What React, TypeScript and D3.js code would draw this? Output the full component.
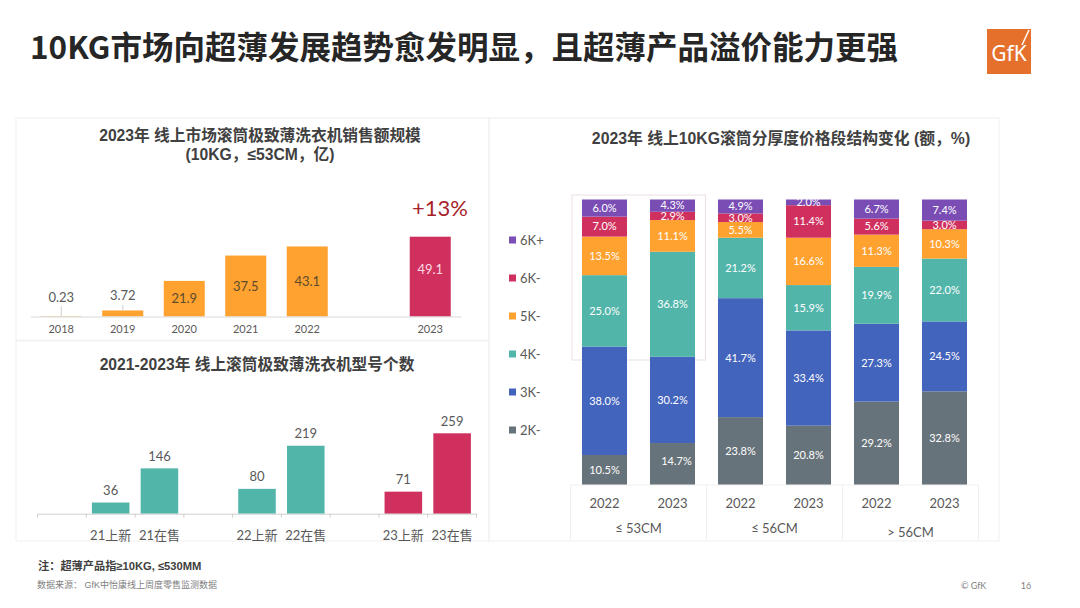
import React, { useEffect, useRef } from 'react';
import * as d3 from 'd3';

// sales scale, 10KG <=53CM (100M RMB)
const salesYears = ['2018', '2019', '2020', '2021', '2022', 'gap', '2023'];
const salesValues = [0.23, 3.72, 21.9, 37.5, 43.1, 0, 49.1];
const salesLabels = ['0.23', '3.72', '21.9', '37.5', '43.1', '', '49.1'];

// model counts
const modelCats = ['gap1', '21上新', '21在售', 'gap2', '22上新', '22在售', 'gap3', '23上新', '23在售'];
const modelValues = [0, 36, 146, 0, 80, 219, 0, 71, 259];

// price band structure, bottom band first
const bands = ['2K-', '3K-', '4K-', '5K-', '6K-', '6K+'];
const columns = ['a2022', 'a2023', 'b2022', 'b2023', 'c2022', 'c2023'];
const columnYears = ['2022', '2023', '2022', '2023', '2022', '2023'];
const share2K = [10.5, 14.7, 23.8, 20.8, 29.2, 32.8];
const share3K = [38.0, 30.2, 41.7, 33.4, 27.3, 24.5];
const share4K = [25.0, 36.8, 21.2, 15.9, 19.9, 22.0];
const share5K = [13.5, 11.1, 5.5, 16.6, 11.3, 10.3];
const share6K = [7.0, 2.9, 3.0, 11.4, 5.6, 3.0];
const share6KPlus = [6.0, 4.3, 4.9, 2.0, 6.7, 7.4];
const groups = ['≤ 53CM', '≤ 56CM', '> 56CM'];

const ORANGE = '#ffa230';
const RED = '#d0305e';
const TEAL = '#52b5aa';
const BLUE = '#4364bc';
const GREY = '#67737a';
const PURPLE = '#7a4db5';
const bandColors = [GREY, BLUE, TEAL, ORANGE, RED, PURPLE];

const LATO = 'Lato, "Noto Sans CJK SC", sans-serif';
const HEAD = '"Liberation Sans", "Noto Sans CJK SC", sans-serif';
const TEXT = '#595959';
const RULE = '#f0f0f0';

const App: React.FC = () => {
  const svgRef = useRef<SVGSVGElement>(null);

  useEffect(() => {
    if (!svgRef.current) return;
    const svg = d3.select(svgRef.current);
    svg.selectAll('*').remove();

    const label = (
      parent: d3.Selection<any, any, any, any>,
      x: number,
      y: number,
      str: string,
      size: number,
      fill = TEXT,
      weight = 400,
      family = LATO,
      anchor = 'middle'
    ) =>
      parent
        .append('text')
        .attr('x', x)
        .attr('y', y)
        .attr('dy', '0.35em')
        .attr('text-anchor', anchor)
        .attr('font-size', size)
        .attr('font-weight', weight)
        .attr('font-family', family)
        .attr('fill', fill)
        .text(str);

    // page heading
    label(svg, 30, 48, '10KG市场向超薄发展趋势愈发明显，且超薄产品溢价能力更强', 31.5, '#262626', 700, '"Noto Sans CJK SC", sans-serif', 'start');

    // logo
    const logo = svg.append('g');
    logo.append('rect').attr('x', 987).attr('y', 29).attr('width', 44).attr('height', 45).attr('fill', '#e5702b');
    label(logo, 1009, 54, 'GfK', 21, '#fff', 400, '"Noto Sans", sans-serif');
    logo.append('line').attr('x1', 1022).attr('y1', 45).attr('x2', 1029).attr('y2', 30).attr('stroke', '#fff').attr('stroke-width', 1.5);

    // card frames
    [
      [16, 118, 473, 222],
      [16, 341, 473, 200],
      [489, 118, 510, 423],
    ].forEach(([x, y, w, h]) => {
      svg.append('rect').attr('x', x).attr('y', y).attr('width', w).attr('height', h).attr('fill', 'none').attr('stroke', RULE);
    });

    // top left: sales
    const salesX = d3.scaleBand<string>().domain(salesYears).range([30.5, 461]).paddingInner(0.333).paddingOuter(0.1665);
    const salesY = d3.scaleLinear().domain([0, 49.1]).range([316.5, 236.7]);
    label(svg, 260, 136, '2023年 线上市场滚筒极致薄洗衣机销售额规模', 15.7, '#404040', 700, HEAD);
    label(svg, 260, 155, '(10KG，≤53CM，亿)', 15.7, '#404040', 700, HEAD);

    salesYears.forEach((year, i) => {
      if (year === 'gap') return;
      const value = salesValues[i];
      const cx = salesX(year)! + salesX.bandwidth() / 2;
      svg
        .append('rect')
        .attr('x', salesX(year)!)
        .attr('y', salesY(value))
        .attr('width', salesX.bandwidth())
        .attr('height', salesY(0) - salesY(value))
        .attr('fill', year === '2023' ? RED : ORANGE);
      if (value < 5) {
        // small bars: value sits above with a leader
        svg.append('line').attr('x1', cx).attr('x2', cx).attr('y1', value < 1 ? 306 : 305).attr('y2', salesY(value)).attr('stroke', '#d0d0d0');
        label(svg, cx, value < 1 ? 297 : 295, salesLabels[i], 13);
      } else if (year === '2023') {
        label(svg, cx, 269, salesLabels[i], 13, '#fbdbe6');
      } else {
        label(svg, cx, (salesY(value) + salesY(0)) / 2, salesLabels[i], 13, '#5c4a2c');
      }
    });
    label(svg, 440, 208, '+13%', 22, '#a81e2a');

    const salesAxis = svg
      .append('g')
      .attr('transform', 'translate(0,316.5)')
      .call(d3.axisBottom(salesX).tickSize(0).tickPadding(9).tickFormat(d => (d === 'gap' ? '' : d)));
    salesAxis.select('.domain').attr('stroke', '#d9d9d9');
    salesAxis.selectAll('text').attr('font-size', 11).attr('font-family', LATO).attr('fill', TEXT);

    // bottom left: model counts
    const modelX = d3.scaleBand<string>().domain(modelCats).range([37.5, 476.5]).paddingInner(0.23).paddingOuter(0.115);
    const modelY = d3.scaleLinear().domain([0, 259]).range([513.7, 433.3]);
    label(svg, 257, 365, '2021-2023年 线上滚筒极致薄洗衣机型号个数', 15.7, '#404040', 700, HEAD);

    modelCats.forEach((cat, i) => {
      if (cat.startsWith('gap')) return;
      const value = modelValues[i];
      const cx = modelX(cat)! + modelX.bandwidth() / 2;
      svg
        .append('rect')
        .attr('x', modelX(cat)!)
        .attr('y', modelY(value))
        .attr('width', modelX.bandwidth())
        .attr('height', modelY(0) - modelY(value))
        .attr('fill', cat.startsWith('23') ? RED : TEAL);
      label(svg, cx, modelY(value) - 12, String(value), 13);
    });

    const modelAxis = svg
      .append('g')
      .attr('transform', 'translate(0,513.7)')
      .call(d3.axisBottom(modelX).tickSize(0).tickPadding(17).tickFormat(d => (d.startsWith('gap') ? '' : d)));
    modelAxis.select('.domain').attr('stroke', '#cfcfcf');
    modelAxis.selectAll('text').attr('font-size', 13).attr('font-family', LATO).attr('fill', TEXT);
    // ticks sit between the categories, not on them
    d3.range(modelCats.length + 1).forEach(i => {
      const tx = 37.5 + i * modelX.step();
      modelAxis.append('line').attr('x1', tx).attr('x2', tx).attr('y1', 0).attr('y2', 4).attr('stroke', '#cfcfcf');
    });

    // footnotes
    label(svg, 38, 566, '注：超薄产品指≥10KG, ≤530MM', 11.2, '#404040', 700, HEAD, 'start');
    label(svg, 37, 585, '数据来源： GfK中怡康线上周度零售监测数据', 9, '#7f7f7f', 400, HEAD, 'start');
    label(svg, 961, 586, '© GfK', 9, '#7f7f7f', 400, LATO, 'start');
    label(svg, 1026, 586, '16', 9, '#7f7f7f');

    // right: stacked price bands
    label(svg, 781, 138, '2023年 线上10KG滚筒分厚度价格段结构变化 (额，%)', 15.8, '#404040', 700, HEAD);

    // highlight around the first group, the bars cover its lower edge
    svg.append('rect').attr('x', 572).attr('y', 195).attr('width', 133.5).attr('height', 165).attr('fill', 'none').attr('stroke', '#ecdfe3');

    const stackX = d3.scaleBand<string>().domain(columns).range([570.5, 978.5]).paddingInner(0.338).paddingOuter(0.169);
    const stackY = d3.scaleLinear().domain([0, 1]).range([485, 199.5]);
    const rows = columns.map((col, i) => ({
      col,
      '2K-': share2K[i],
      '3K-': share3K[i],
      '4K-': share4K[i],
      '5K-': share5K[i],
      '6K-': share6K[i],
      '6K+': share6KPlus[i],
    }));
    const stacked = d3.stack<any>().keys(bands).offset(d3.stackOffsetExpand)(rows);

    stacked.forEach((layer, b) => {
      layer.forEach(seg => {
        const col = seg.data.col as string;
        const y0 = stackY(seg[0]);
        const y1 = stackY(seg[1]);
        svg.append('rect').attr('x', stackX(col)!).attr('y', y1).attr('width', stackX.bandwidth()).attr('height', y0 - y1).attr('fill', bandColors[b]);
      });
    });
    stacked.forEach(layer => {
      layer.forEach(seg => {
        const col = seg.data.col as string;
        const value = seg.data[layer.key] as number;
        let cx = stackX(col)! + stackX.bandwidth() / 2;
        let cy = (stackY(seg[0]) + stackY(seg[1])) / 2;
        // this one label was dragged off centre in the source slide
        if (col === 'a2023' && layer.key === '2K-') {
          cx += 4;
          cy -= 3;
        }
        label(svg, cx, cy, value.toFixed(1) + '%', 11, '#fff');
      });
    });

    // legend
    const legendY = d3.scalePoint<string>().domain([...bands].reverse()).range([240, 430]);
    bands.forEach((band, b) => {
      const ly = legendY(band)!;
      svg.append('rect').attr('x', 509).attr('y', ly - 3.5).attr('width', 7).attr('height', 7).attr('fill', bandColors[b]);
      label(svg, 520, ly, band, 13, TEXT, 400, LATO, 'start');
    });

    // table under the bars
    const tableEdges = [570.5, 706.5, 842.5, 978.5];
    svg.append('line').attr('x1', 570.5).attr('x2', 978.5).attr('y1', 485).attr('y2', 485).attr('stroke', RULE);
    tableEdges.forEach(tx => {
      svg.append('line').attr('x1', tx).attr('x2', tx).attr('y1', 485).attr('y2', 541).attr('stroke', RULE);
    });
    columns.forEach((col, i) => {
      label(svg, stackX(col)! + stackX.bandwidth() / 2, 503, columnYears[i], 13);
    });
    groups.forEach((group, i) => {
      const gx = (tableEdges[i] + tableEdges[i + 1]) / 2;
      label(svg, gx, i === 2 ? 532 : 528, group, 13);
    });
  }, []);

  return (
    <svg
      ref={svgRef}
      width={1080}
      height={608}
      style={{ position: 'absolute', left: 0, top: 0, background: '#fff' }}
    />
  );
};

export default App;
